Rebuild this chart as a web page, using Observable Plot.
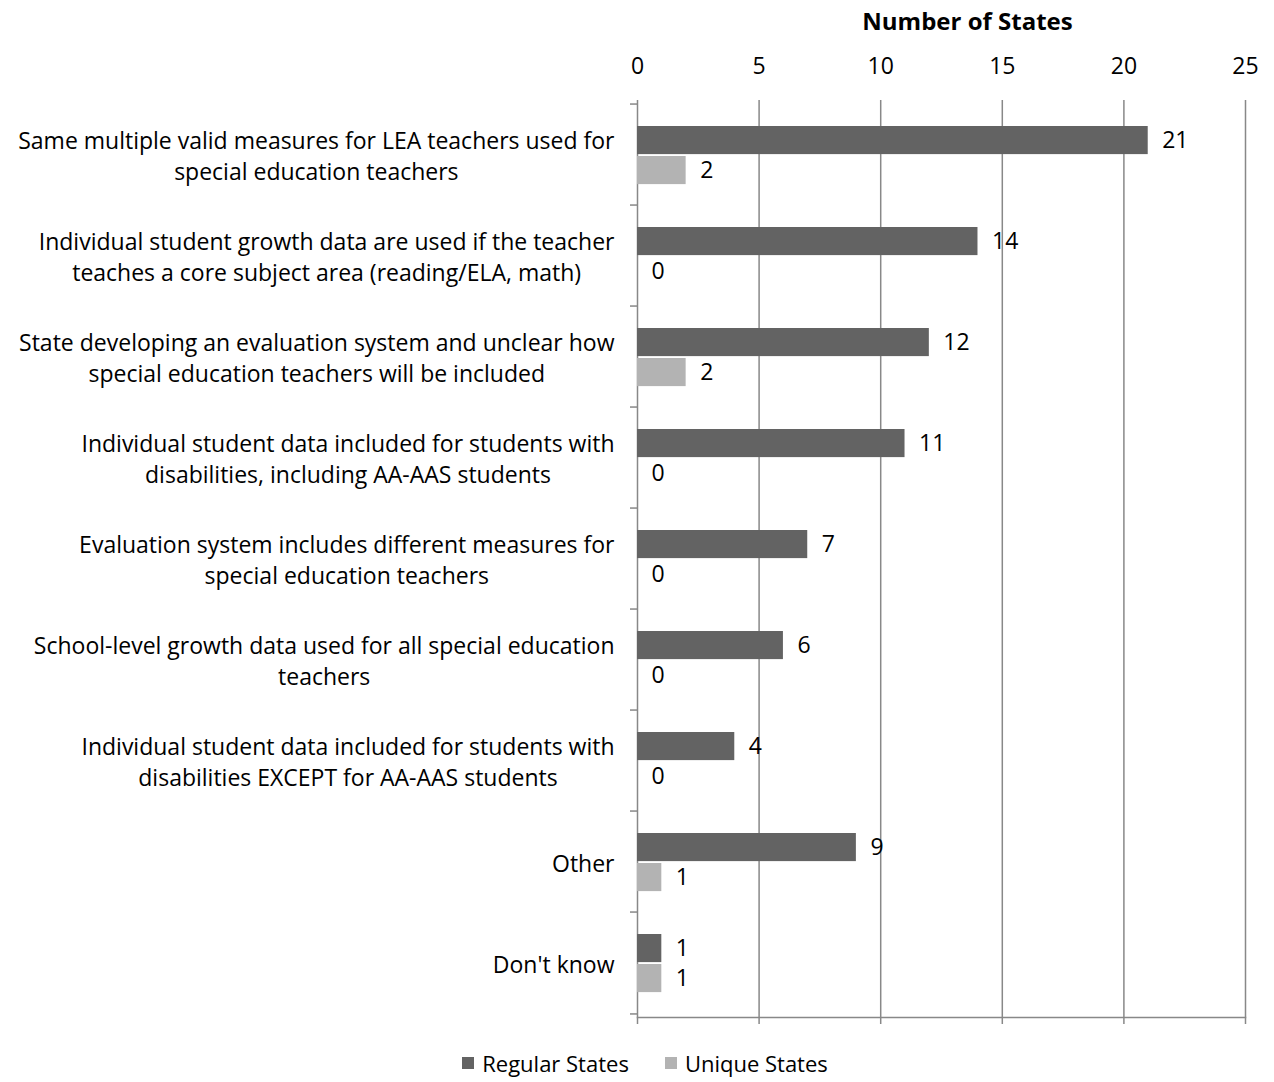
<!DOCTYPE html>
<html>
<head>
<meta charset="utf-8">
<script src="https://cdn.jsdelivr.net/npm/d3@7"></script>
<script src="https://cdn.jsdelivr.net/npm/@observablehq/plot@0.6"></script>
<style>
  html, body { margin: 0; padding: 0; background: #fff; overflow: hidden; }
  #chart { position: relative; width: 1274px; height: 1082px; font-family: "Open Sans", sans-serif; color: #000; }
  #chart svg { position: absolute; left: 0; top: 0; }
  .legend { position: absolute; left: 0; top: 1050px; width: 1274px; height: 26px;
            display: flex; justify-content: center; align-items: center; gap: 36px;
            font-size: 22px; line-height: 26px; padding-left: 16px; box-sizing: border-box; }
  .legend span.sw { display: inline-block; width: 12px; height: 12px; margin-right: 8px; }
  .legend .item { display: flex; align-items: center; }
</style>
</head>
<body>
<div id="chart"></div>
<script>
// Survey responses: how special education teachers are evaluated
const categories = [
  "Same multiple valid measures for LEA teachers used for\nspecial education teachers",
  "Individual student growth data are used if the teacher\nteaches a core subject area (reading/ELA, math)",
  "State developing an evaluation system and unclear how\nspecial education teachers will be included",
  "Individual student data included for students with\ndisabilities, including AA-AAS students",
  "Evaluation system includes different measures for\nspecial education teachers",
  "School-level growth data used for all special education\nteachers",
  "Individual student data included for students with\ndisabilities EXCEPT for AA-AAS students",
  "Other",
  "Don't know"
];
const regularStates = [21, 14, 12, 11, 7, 6, 4, 9, 1];
const uniqueStates  = [2, 0, 2, 0, 0, 0, 0, 1, 1];
const xTicks = [0, 5, 10, 15, 20, 25];
const seriesNames = ["Regular States", "Unique States"];
const seriesColors = ["#636363", "#b3b3b3"];

const regularRows = categories.map((c, i) => ({category: c, value: regularStates[i]}));
const uniqueRows  = categories.map((c, i) => ({category: c, value: uniqueStates[i]}));

const W = 1274, H = 1040, mt = 100, mb = 23, ml = 637, mr = 29;
const step = (H - mt - mb) / categories.length;
const font = "'Open Sans', sans-serif";
const fs = 23;
const grid = "#888888";

// measure label blocks so each one is centred on itself and right-aligned to the axis
const ctx = document.createElement("canvas").getContext("2d");
ctx.font = `${fs}px 'Open Sans'`;
const blockWidth = c => Math.max(...c.split("\n").map(l => ctx.measureText(l).width));

const labelMarks = categories.map(c =>
  Plot.text([c], {
    y: d => d, text: d => d, frameAnchor: "left", textAnchor: "middle",
    dx: -23 - blockWidth(c) / 2, lineHeight: 1.35, fontSize: fs, fill: "#000"
  })
);

const svg = Plot.plot({
  width: W, height: H,
  marginTop: mt, marginBottom: mb, marginLeft: ml, marginRight: mr,
  style: {fontFamily: font, fontSize: `${fs}px`, color: "#000", background: "#fff"},
  x: {domain: [0, 25]},
  y: {domain: categories, padding: 0},
  marks: [
    Plot.ruleX(xTicks, {stroke: grid, strokeWidth: 1.5}),
    Plot.frame({anchor: "bottom", stroke: grid, strokeWidth: 1.5}),
    Plot.axisX(xTicks, {anchor: "top", tickSize: 0, tickPadding: 27, label: null, fontSize: fs}),
    Plot.axisX(xTicks, {anchor: "bottom", tickSize: 7, tickFormat: () => "", label: null,
                        stroke: grid, strokeWidth: 1.5}),
    Plot.axisY({tickSize: 7, tickFormat: () => "", label: null, dy: -step / 2,
                stroke: grid, strokeWidth: 1.5}),
    Plot.axisY([categories[categories.length - 1]], {tickSize: 7, tickFormat: () => "", label: null,
                dy: step / 2, stroke: grid, strokeWidth: 1.5}),
    Plot.barX(regularRows, {x: "value", y: "category", fill: seriesColors[0],
                            insetTop: 22, insetBottom: step - 51}),
    Plot.barX(uniqueRows, {x: "value", y: "category", fill: seriesColors[1],
                           insetTop: 52, insetBottom: step - 81}),
    Plot.text(regularRows, {x: "value", y: "category", text: d => String(d.value),
                            dx: 14, dy: -14, textAnchor: "start", fontSize: fs, fill: "#000"}),
    Plot.text(uniqueRows, {x: "value", y: "category", text: d => String(d.value),
                           dx: 14, dy: 16, textAnchor: "start", fontSize: fs, fill: "#000"}),
    ...labelMarks,
    Plot.text(["Number of States"], {frameAnchor: "top", text: d => d, dx: 26, dy: -78,
                                     lineAnchor: "middle", fontWeight: "bold", fontSize: 24, fill: "#000"})
  ]
});

const chart = document.getElementById("chart");
chart.appendChild(svg);

const legend = document.createElement("div");
legend.className = "legend";
seriesNames.forEach((name, i) => {
  const item = document.createElement("div");
  item.className = "item";
  const sw = document.createElement("span");
  sw.className = "sw";
  sw.style.background = seriesColors[i];
  item.appendChild(sw);
  item.appendChild(document.createTextNode(name));
  legend.appendChild(item);
});
chart.appendChild(legend);
</script>
</body>
</html>
